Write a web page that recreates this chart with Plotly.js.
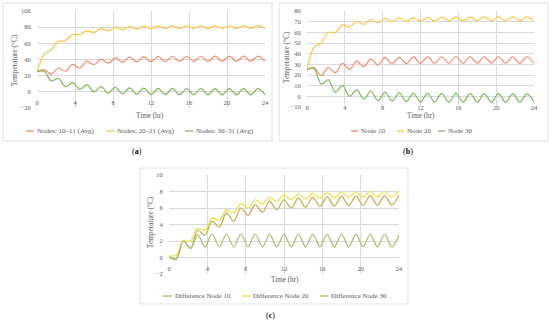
<!DOCTYPE html>
<html><head><meta charset="utf-8">
<script src="https://cdn.plot.ly/plotly-3.0.1.min.js"></script>
<style>html,body{margin:0;padding:0;background:#fff}#c{width:550px;height:324px}</style>
</head><body><div id="c"></div>
<script>
// ---- data ----
const timeHr = [0,0.75,1.5,2.25,3,3.75,4.5,5.25,6,6.75,7.5,8.25,9,9.75,10.5,11.25,12,12.75,13.5,14.25,15,15.75,16.5,17.25,18,18.75,19.5,20.25,21,21.75,22.5,23.25,24];

// (a) averaged node pairs
const namesA = ["Nodes: 10\u201311 (Avg)","Nodes: 20\u201321 (Avg)","Nodes: 30\u201331 (Avg)"];
const nodes1011 = [25,27.5,21.8,29.5,25.5,34,29.5,38,33.5,40.5,35.5,42,36.5,43,37,43.5,37.3,43.8,37.5,44,37.6,44,37.7,44,37.7,44.1,37.8,44.1,37.8,44.1,37.8,44.1,37.8];
const nodes2021 = [25,46,52,62.5,63.5,71,71,75.5,73.5,78.3,75.5,80,77,80.8,77.6,81.3,78,81.6,78.2,81.8,78.3,81.9,78.4,82,78.4,82,78.5,82,78.5,82,78.5,82,78.4];
const nodes3031 = [25,25.5,13.5,16.5,6.5,11.5,3,8.5,0,6.5,-1.5,5.5,-2.5,5,-3,4.5,-3.3,4.3,-3.5,4.2,-3.6,4.1,-3.6,4.1,-3.7,4,-3.7,4,-3.7,4,-3.7,4,-3.7];

// (b) single nodes
const namesB = ["Node 10","Node 20","Node 30"];
const node10 = [25,26.8,19.5,27,22,31,25.3,33,27.8,35,29.5,36.2,30.3,36.6,30.7,36.9,30.9,37,31,37.1,31,37.1,31,37.1,31.1,37.1,31.1,37.1,31.1,37.1,31.1,37.1,31];
const node20 = [25,46,50,60,60,67,65,70.5,67.5,72,69,73,70,73.5,70.3,73.8,70.5,74,70.6,74.2,70.7,74.3,70.7,74.3,70.8,74.4,70.8,74.4,70.8,74.4,70.8,74.4,70.5];
const node30 = [25,26,11.5,15.5,4,10,0,6,-2.5,5,-4,4,-4.5,3.3,-5,3,-5.3,2.8,-5.4,2.7,-5.5,2.7,-5.5,2.6,-5.5,2.6,-5.5,2.6,-5.5,2.6,-5.5,2.6,-5.5];

// (c) differences
const namesC = ["Difference Node 10","Difference Node 20","Difference Node 30"];
const diff10 = [0.1,-0.15,2.0,1.1,3.3,2.7,4.4,3.7,5.4,4.4,6.0,5.1,6.4,5.5,6.8,5.8,7.0,6.0,7.2,6.1,7.3,6.2,7.35,6.25,7.4,6.3,7.45,6.3,7.5,6.35,7.5,6.35,7.55];
const diff20 = [0.2,0.3,2.0,2.0,3.5,3.3,4.8,4.5,5.8,5.4,6.5,6.0,7.0,6.5,7.3,6.8,7.55,7.0,7.7,7.1,7.8,7.2,7.85,7.25,7.9,7.3,7.95,7.3,8.0,7.35,8.0,7.35,8.05];
const diff30 = [0.1,-0.2,2.0,1.1,2.75,1.3,2.85,1.3,2.85,1.3,2.85,1.3,2.85,1.3,2.8,1.3,2.8,1.3,2.8,1.3,2.8,1.3,2.8,1.3,2.8,1.3,2.8,1.3,2.8,1.3,2.8,1.3,2.7];

const xTicks = [0,4,8,12,16,20,24];
const captions = ["(<b>a</b>)","(<b>b</b>)","(<b>c</b>)"];
const xTitle = "Time (hr)";
const yTitle = "Temperature (\u00b0C)";

// ---- styling / layout ----
const W=550,H=324;
const FX=x=>x/W, FY=y=>1-y/H;
const FONT="Liberation Serif";
const TXT="#595959", GRID="#d9d9d9";
const colsAB=["#EF8D6B","#FFC43F","#7FB85B"];
const colsC=["#C2AA4E","#F0DE3C","#A5BD6B"];

const panels=[
 {ys:[nodes1011,nodes2021,nodes3031],names:namesA,cols:colsAB,x0:37,x1:265,y0:11,y1:108,yr:[-20,100],dt:20,frame:[3,3,272,141],cap:[137,151],xt:[150,116],yt:[15,60],leg:[[26,34],[106,114],[185,193]],legY:131},
 {ys:[node10,node20,node30],names:namesB,cols:colsAB,x0:307,x1:534,y0:11,y1:107,yr:[-10,80],dt:10,frame:[279,3,548,141],cap:[408,151],xt:[421,116],yt:[286,57],leg:[[351,358],[397,404],[438,445]],legY:131},
 {ys:[diff10,diff20,diff30],names:namesC,cols:colsC,x0:169,x1:399,y0:175,y1:274,yr:[-2,10],dt:2,frame:[140,168,408,304],cap:[270,315],xt:[285,280],yt:[150,222],leg:[[163,172],[242,250],[320,328]],legY:296}
];

const data=[], shapes=[], ann=[];
const layout={width:W,height:H,margin:{l:0,r:0,t:0,b:0},paper_bgcolor:"#fff",plot_bgcolor:"rgba(0,0,0,0)",showlegend:false,font:{family:FONT,color:TXT,size:7}};

panels.forEach((p,i)=>{
  const sfx=i===0?"":String(i+1);
  const yd=[FY(p.y1),FY(p.y0)];
  const zeroFrac = yd[0]+(0-p.yr[0])/(p.yr[1]-p.yr[0])*(yd[1]-yd[0]);
  layout["xaxis"+sfx]={domain:[FX(p.x0),FX(p.x1)],range:[0,24],tickvals:xTicks,showgrid:true,gridcolor:GRID,gridwidth:1,zeroline:false,showline:false,ticks:"outside",ticklen:4.5,tickcolor:"rgba(0,0,0,0)",anchor:"free",position:zeroFrac,tickfont:{family:FONT,size:6.5,color:TXT},fixedrange:true};
  layout["yaxis"+sfx]={domain:yd,range:p.yr,dtick:p.dt,tick0:0,showgrid:true,gridcolor:GRID,gridwidth:1,zeroline:true,zerolinecolor:GRID,zerolinewidth:1,showline:false,ticks:"outside",ticklen:4,tickcolor:"rgba(0,0,0,0)",anchor:"x"+sfx,tickfont:{family:FONT,size:6.5,color:TXT},fixedrange:true};
  p.ys.forEach((ys,k)=>{
    data.push({x:timeHr,y:ys,type:"scatter",mode:"lines",name:p.names[k],xaxis:"x"+sfx,yaxis:"y"+sfx,line:{color:p.cols[k],width:1.2,shape:"spline",smoothing:1},hoverinfo:"skip"});
    shapes.push({type:"line",xref:"paper",yref:"paper",x0:FX(p.leg[k][0]),x1:FX(p.leg[k][1]),y0:FY(p.legY),y1:FY(p.legY),line:{color:p.cols[k],width:1.3}});
    ann.push({xref:"paper",yref:"paper",x:FX(p.leg[k][1]+1),y:FY(p.legY),xanchor:"left",yanchor:"middle",text:p.names[k],showarrow:false,font:{family:FONT,size:7,color:TXT}});
  });
  shapes.push({type:"rect",xref:"paper",yref:"paper",x0:FX(p.frame[0]),x1:FX(p.frame[2]),y0:FY(p.frame[3]),y1:FY(p.frame[1]),line:{color:GRID,width:0.8},fillcolor:"rgba(0,0,0,0)"});
  ann.push({xref:"paper",yref:"paper",x:FX(p.xt[0]),y:FY(p.xt[1]),xanchor:"center",yanchor:"middle",text:xTitle,showarrow:false,font:{family:FONT,size:7.2,color:TXT}});
  ann.push({xref:"paper",yref:"paper",x:FX(p.yt[0]),y:FY(p.yt[1]),xanchor:"center",yanchor:"middle",text:yTitle,textangle:-90,showarrow:false,font:{family:FONT,size:7.3,color:TXT}});
  ann.push({xref:"paper",yref:"paper",x:FX(p.cap[0]),y:FY(p.cap[1]),xanchor:"center",yanchor:"middle",text:captions[i],showarrow:false,font:{family:FONT,size:8,color:"#000"}});
});
layout.shapes=shapes; layout.annotations=ann;
Plotly.newPlot("c",data,layout,{staticPlot:true,displayModeBar:false});
</script></body></html>
